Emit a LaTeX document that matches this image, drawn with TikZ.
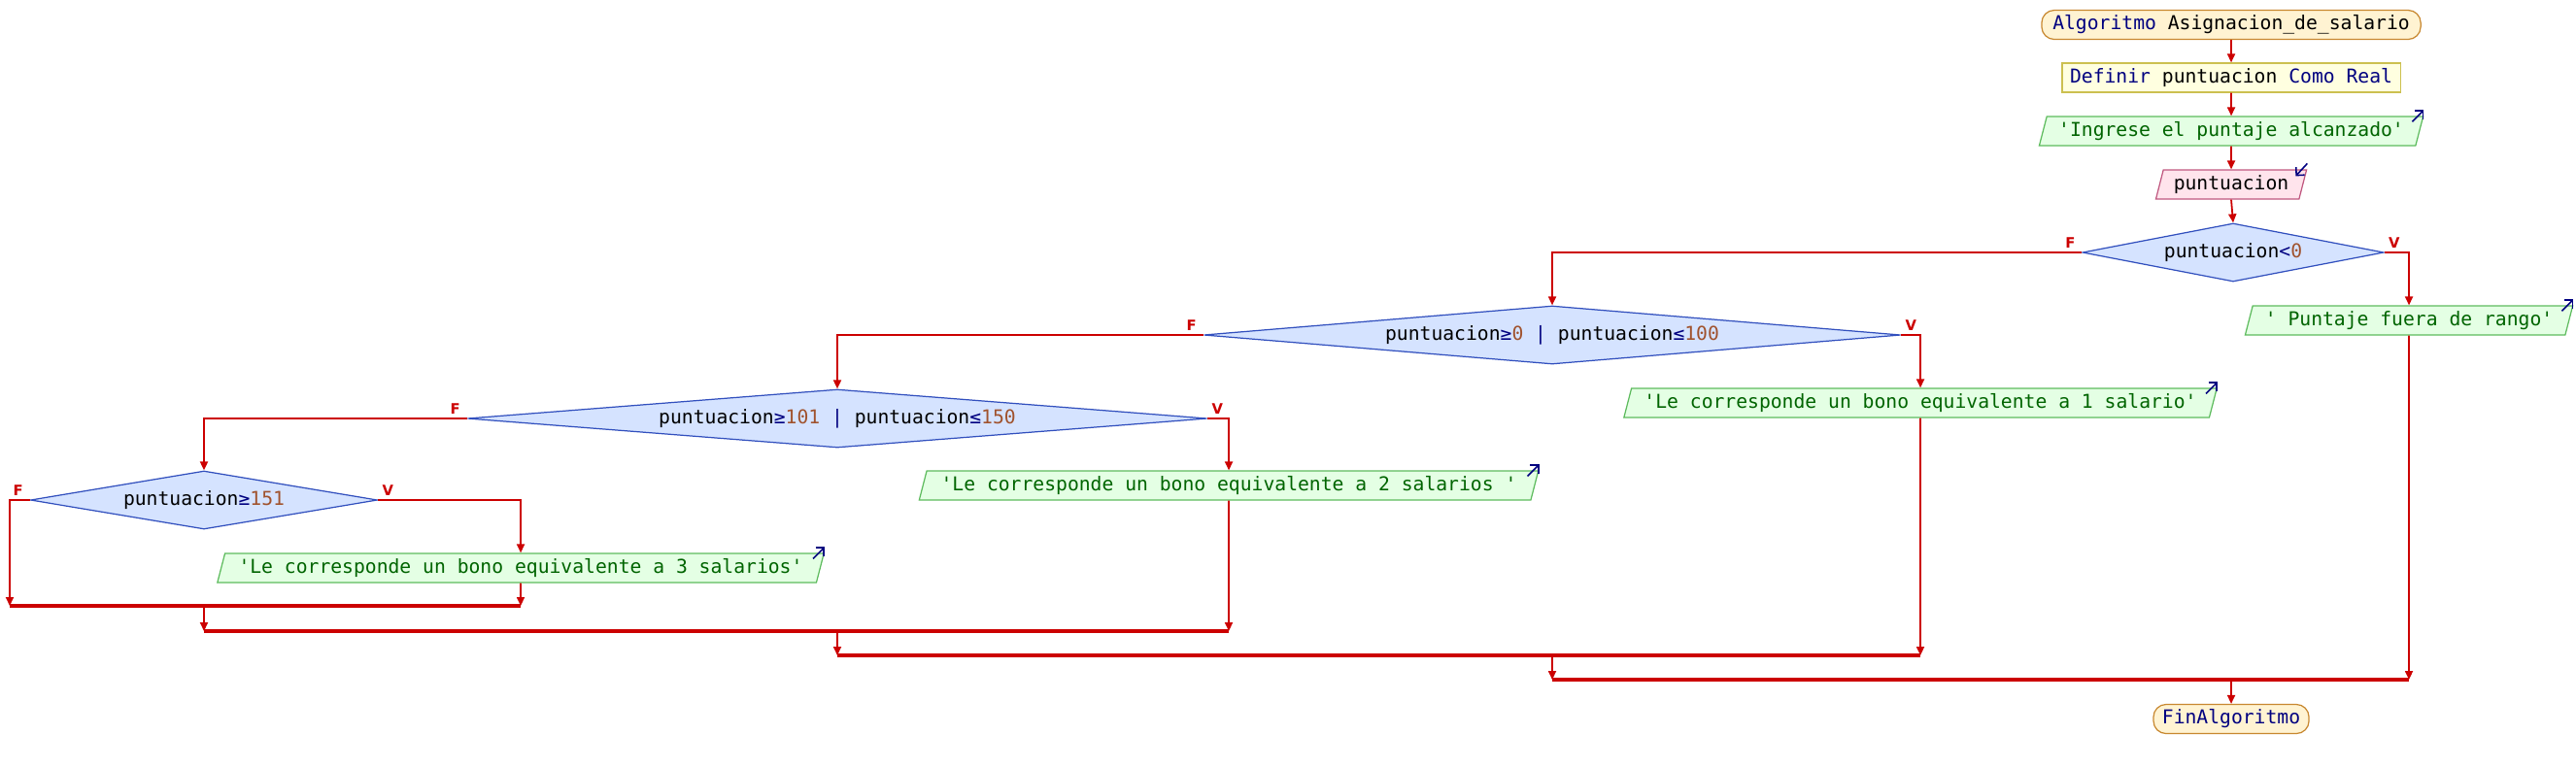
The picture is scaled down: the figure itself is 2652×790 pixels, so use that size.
\documentclass[tikz,border=0pt]{standalone}
\usepackage{fontspec}
\setmonofont{DejaVu Sans Mono}
\setsansfont{DejaVu Sans}
\usetikzlibrary{arrows.meta,shapes.geometric}
\definecolor{psired}{RGB}{204,0,0}
\definecolor{psinavy}{RGB}{0,0,128}
\definecolor{psistr}{RGB}{0,100,0}
\definecolor{psinum}{RGB}{160,82,45}
\definecolor{psicream}{RGB}{255,243,210}
\definecolor{psitan}{RGB}{200,136,48}
\definecolor{psiyellow}{RGB}{255,255,224}
\definecolor{psikhaki}{RGB}{204,192,80}
\definecolor{psigreen}{RGB}{228,255,228}
\definecolor{psigreenline}{RGB}{93,187,93}
\definecolor{psipink}{RGB}{255,228,236}
\definecolor{psipinkline}{RGB}{192,88,128}
\definecolor{psiblue}{RGB}{213,227,255}
\definecolor{psiblueline}{RGB}{50,80,190}
\newcommand{\pskw}[1]{\textcolor{psinavy}{#1}}
\newcommand{\psnum}[1]{\textcolor{psinum}{#1}}
\newcommand{\sq}{\textquotesingle}

\begin{document}
\begin{tikzpicture}[x=0.01cm, y=-0.01cm,
    box/.style={draw, line width=0.35pt, inner sep=0pt, minimum height=0.3cm,
                font=\fontsize{5.6pt}{6.7pt}\selectfont\ttfamily},
    term/.style={box, rounded corners=1.3mm, fill=psicream, draw=psitan,
                 text=psinavy},
    defbox/.style={box, fill=psiyellow, draw=psikhaki},
    outbox/.style={box, trapezium, trapezium left angle=68,
                   trapezium right angle=112, trapezium stretches body,
                   fill=psigreen, draw=psigreenline, text=psistr},
    inbox/.style={outbox, fill=psipink, draw=psipinkline, text=black},
    cond/.style={box, diamond, fill=psiblue, draw=psiblueline,
                 minimum height=0.6cm},
    flow/.style={-{Triangle[length=0.9mm, width=0.8mm]}, psired,
                 line width=0.5pt},
    joinline/.style={psired, line width=0.9pt},
    flab/.style={font=\fontsize{4.2pt}{5pt}\selectfont\sffamily\bfseries,
                 text=psired, inner sep=0pt},
    iconarr/.style={-{Straight Barb[length=0.6mm]}, psinavy, line width=0.45pt},
  ]
  \useasboundingbox (0,0) rectangle (2652,790);

  % --- main column ---
  \node[term, minimum width=3.9cm] (start) at (2297,25.5)
    {Algoritmo \textcolor{black}{Asignacion\_de\_salario}};
  \node[defbox, minimum width=3.48cm] (def) at (2297,80)
    {\pskw{Definir} puntuacion \pskw{Como Real}};
  \node[outbox, minimum width=3.95cm] (o1) at (2297,135)
    {\sq Ingrese el puntaje alcanzado\sq};
  \node[inbox, minimum width=1.55cm] (in) at (2297,190) {puntuacion};

  % --- conditions ---
  \node[cond, minimum width=3.1cm, aspect=5.2] (d1) at (2299,260)
    {puntuacion\pskw{<}\psnum{0}};
  \node[cond, minimum width=7.17cm, aspect=12] (d2) at (1598,345)
    {puntuacion\pskw{≥}\psnum{0} \pskw{|} puntuacion\pskw{≤}\psnum{100}};
  \node[cond, minimum width=7.61cm, aspect=12.7] (d3) at (862,431)
    {puntuacion\pskw{≥}\psnum{101} \pskw{|} puntuacion\pskw{≤}\psnum{150}};
  \node[cond, minimum width=3.57cm, aspect=6] (d4) at (210,515)
    {puntuacion\pskw{≥}\psnum{151}};

  % --- outputs ---
  \node[outbox, minimum width=3.37cm] (o2) at (2480,330)
    {\sq\ Puntaje fuera de rango\sq};
  \node[outbox, minimum width=6.1cm] (o3) at (1977,415)
    {\sq Le corresponde un bono equivalente a 1 salario\sq};
  \node[outbox, minimum width=6.37cm] (o4) at (1265,500)
    {\sq Le corresponde un bono equivalente a 2 salarios \sq};
  \node[outbox, minimum width=6.24cm] (o5) at (536,585)
    {\sq Le corresponde un bono equivalente a 3 salarios\sq};

  \node[term, minimum width=1.6cm] (fin) at (2297,740.5) {FinAlgoritmo};

  % --- F / V labels ---
  \foreach \d in {d1,d2,d3,d4} {
    \node[flab] (f-\d) at ([shift={(-12,-10)}]\d.west) {F};
    \node[flab] (v-\d) at ([shift={(10,-10)}]\d.east) {V};
  }

  % --- connectors ---
  \foreach \a/\b in {start/def, def/o1, o1/in, in/d1}
    \draw[flow] (\a.south) -- (\b.north);
  \draw[flow] (d1.west) -| (d2.north);
  \draw[flow] (d1.east) -| (o2.north);
  \draw[flow] (d2.west) -| (d3.north);
  \draw[flow] (d2.east) -| (o3.north);
  \draw[flow] (d3.west) -| (d4.north);
  \draw[flow] (d3.east) -| (o4.north);
  \draw[flow] (d4.east) -| (o5.north);

  % --- joins ---
  \coordinate (j4l) at (10,624);   \coordinate (j4m) at (210,624);
  \coordinate (j4r) at (536,624);
  \coordinate (j3l) at (210,650);  \coordinate (j3m) at (862,650);
  \coordinate (j3r) at (1265,650);
  \coordinate (j2l) at (862,675);  \coordinate (j2m) at (1598,675);
  \coordinate (j2r) at (1977,675);
  \coordinate (j1l) at (1598,700); \coordinate (j1m) at (2297,700);
  \coordinate (j1r) at (2480,700);
  \draw[flow] (d4.west) -| (j4l);
  \draw[flow] (o5.south) -- (j4r);
  \draw[flow] (o4.south) -- (j3r);
  \draw[flow] (o3.south) -- (j2r);
  \draw[flow] (o2.south) -- (j1r);
  \draw[flow] (j4m) -- (j3l);
  \draw[flow] (j3m) -- (j2l);
  \draw[flow] (j2m) -- (j1l);
  \draw[flow] (j1m) -- (fin.north);
  \foreach \j in {j4,j3,j2,j1}
    \draw[joinline] (\j l) -- (\j r);

  % --- small i/o marks ---
  \foreach \o in {o1,o2,o3,o4,o5}
    \draw[iconarr] ([shift={(-12,6)}]\o.top right corner) -- ++(12,-12);
  \draw[iconarr] ([shift={(0,-6)}]in.top right corner) -- ++(-12,13);
\end{tikzpicture}
\end{document}
